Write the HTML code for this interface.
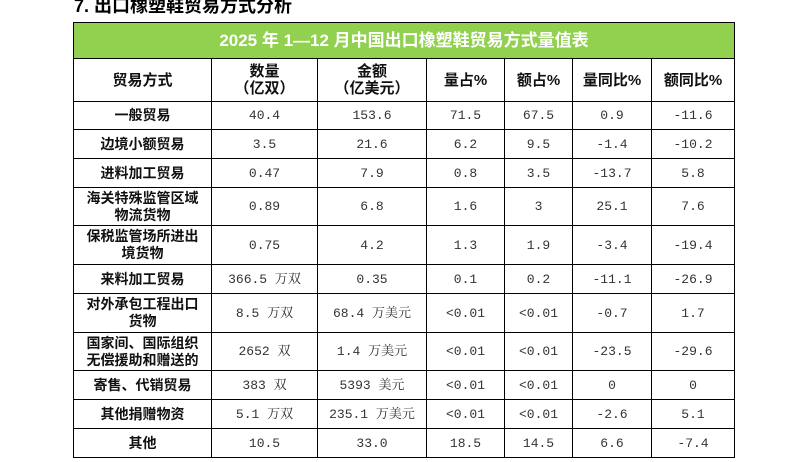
<!DOCTYPE html><html><head><meta charset="utf-8"><style>
body{margin:0;width:808px;height:462px;background:#fff;position:relative;overflow:hidden;font-family:"Liberation Sans","Noto Sans CJK SC",sans-serif}
.t{position:absolute;left:74px;top:-5px;font-size:18px;font-weight:bold;color:#000;line-height:22px}
table{position:absolute;left:73px;top:22px;border-collapse:collapse;table-layout:fixed}
td{border:1px solid #000;text-align:center;padding:0;font-size:13px;line-height:17px;font-family:"Liberation Mono","Noto Serif CJK SC",monospace;color:#333}
td.l{font-family:"Liberation Sans","Noto Sans CJK SC",sans-serif;font-weight:bold;color:#111;font-size:14px}
.h td{font-family:"Liberation Sans","Noto Sans CJK SC",sans-serif;font-weight:bold;font-size:15px;color:#111}
.g td{background:#92d050;color:#fff;font-size:17px;font-weight:bold;font-family:"Liberation Sans","Noto Sans CJK SC",sans-serif}
</style></head><body>
<div class="t">7. 出口橡塑鞋贸易方式分析</div>
<table>
<colgroup><col style="width:138px"><col style="width:106px"><col style="width:109px"><col style="width:78px"><col style="width:68px"><col style="width:79px"><col style="width:83px"></colgroup>
<tr class="g" style="height:36px"><td colspan="7">2025 年 1—12 月中国出口橡塑鞋贸易方式量值表</td></tr>
<tr class="h" style="height:43px"><td>贸易方式</td><td>数量<br>（亿双）</td><td>金额<br>（亿美元）</td><td>量占%</td><td>额占%</td><td>量同比%</td><td>额同比%</td></tr>
<tr style="height:28px"><td class="l">一般贸易</td><td>40.4</td><td>153.6</td><td>71.5</td><td>67.5</td><td>0.9</td><td>-11.6</td></tr>
<tr style="height:29px"><td class="l">边境小额贸易</td><td>3.5</td><td>21.6</td><td>6.2</td><td>9.5</td><td>-1.4</td><td>-10.2</td></tr>
<tr style="height:29px"><td class="l">进料加工贸易</td><td>0.47</td><td>7.9</td><td>0.8</td><td>3.5</td><td>-13.7</td><td>5.8</td></tr>
<tr style="height:38px"><td class="l">海关特殊监管区域<br>物流货物</td><td>0.89</td><td>6.8</td><td>1.6</td><td>3</td><td>25.1</td><td>7.6</td></tr>
<tr style="height:39px"><td class="l">保税监管场所进出<br>境货物</td><td>0.75</td><td>4.2</td><td>1.3</td><td>1.9</td><td>-3.4</td><td>-19.4</td></tr>
<tr style="height:29px"><td class="l">来料加工贸易</td><td>366.5 万双</td><td>0.35</td><td>0.1</td><td>0.2</td><td>-11.1</td><td>-26.9</td></tr>
<tr style="height:39px"><td class="l">对外承包工程出口<br>货物</td><td>8.5 万双</td><td>68.4 万美元</td><td>&lt;0.01</td><td>&lt;0.01</td><td>-0.7</td><td>1.7</td></tr>
<tr style="height:38px"><td class="l">国家间、国际组织<br>无偿援助和赠送的</td><td>2652 双</td><td>1.4 万美元</td><td>&lt;0.01</td><td>&lt;0.01</td><td>-23.5</td><td>-29.6</td></tr>
<tr style="height:29px"><td class="l">寄售、代销贸易</td><td>383 双</td><td>5393 美元</td><td>&lt;0.01</td><td>&lt;0.01</td><td>0</td><td>0</td></tr>
<tr style="height:29px"><td class="l">其他捐赠物资</td><td>5.1 万双</td><td>235.1 万美元</td><td>&lt;0.01</td><td>&lt;0.01</td><td>-2.6</td><td>5.1</td></tr>
<tr style="height:29px"><td class="l">其他</td><td>10.5</td><td>33.0</td><td>18.5</td><td>14.5</td><td>6.6</td><td>-7.4</td></tr>
</table>
</body></html>
